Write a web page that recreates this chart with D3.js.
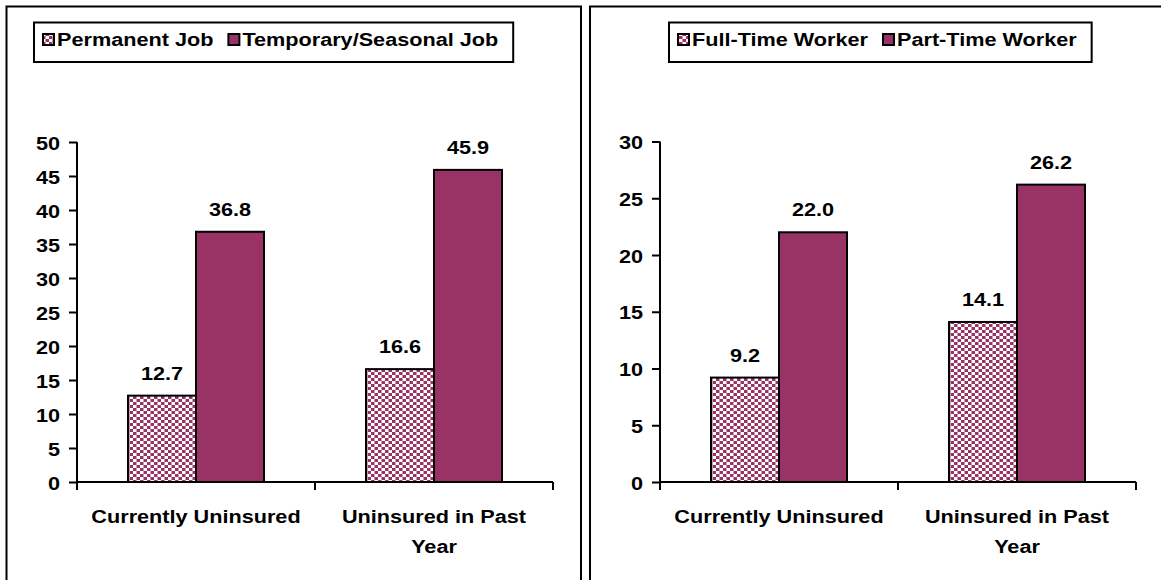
<!DOCTYPE html>
<html>
<head>
<meta charset="utf-8">
<script src="https://cdn.jsdelivr.net/npm/d3@7"></script>
<style>
  body { margin: 0; background: #fff; }
  text { font-family: Arial, "Liberation Sans", sans-serif; font-weight: bold; fill: #000; }
</style>
</head>
<body>
<div id="viz"></div>
<script>
// values
const categories = ["Currently Uninsured", "Uninsured in Past Year"];

const jobSeries = ["Permanent Job", "Temporary/Seasonal Job"];
const permanentJob = [12.7, 16.6];
const temporaryJob = [36.8, 45.9];
const jobTicks = [0, 5, 10, 15, 20, 25, 30, 35, 40, 45, 50];

const workerSeries = ["Full-Time Worker", "Part-Time Worker"];
const fullTimeWorker = [9.2, 14.1];
const partTimeWorker = [22.0, 26.2];
const workerTicks = [0, 5, 10, 15, 20, 25, 30];

const width = 1161, height = 580;
const plum = "#993366";
const fontSize = 19, stretch = 1.14;   // the source picture is stretched sideways

const svg = d3.select("#viz")
  .append("svg")
  .attr("width", width)
  .attr("height", height);

// checker fill for the first series
const pat = svg.append("defs").append("pattern")
  .attr("id", "check")
  .attr("patternUnits", "userSpaceOnUse")
  .attr("width", 7)
  .attr("height", 6);
pat.append("rect").attr("width", 7).attr("height", 6).attr("fill", "#fff");
pat.append("rect").attr("width", 3.5).attr("height", 3).attr("fill", plum);
pat.append("rect").attr("x", 3.5).attr("y", 3).attr("width", 3.5).attr("height", 3).attr("fill", plum);

const fills = ["url(#check)", plum];

function stretchedText(sel, x, y, anchor) {
  return sel.append("text")
    .attr("transform", `translate(${x},${y}) scale(${stretch},1)`)
    .attr("text-anchor", anchor || "start")
    .style("font-size", fontSize + "px");
}

function drawPanel(p) {
  const g = svg.append("g");

  // panel frame
  g.append("rect")
    .attr("x", p.frame[0]).attr("y", 6.5)
    .attr("width", p.frame[1] - p.frame[0]).attr("height", 600)
    .attr("fill", "none").attr("stroke", "#000").attr("stroke-width", 2);

  const x0 = d3.scaleBand().domain(categories).range(p.xRange);
  const x1 = d3.scaleBand().domain(p.series).range([0, x0.bandwidth()]).paddingOuter(0.75);
  const y = d3.scaleLinear().domain([0, d3.max(p.ticks)]).range(p.yRange);

  // bars
  const rows = categories.map((c, i) => p.series.map((s, j) => ({c, s, j, v: p.values[j][i]})));
  const grp = g.selectAll("g.cat")
    .data(rows).enter()
    .append("g").attr("class", "cat")
    .attr("transform", d => `translate(${x0(d[0].c)},0)`);

  grp.selectAll("rect")
    .data(d => d).enter()
    .append("rect")
    .attr("x", d => x1(d.s))
    .attr("y", d => y(d.v))
    .attr("width", x1.bandwidth())
    .attr("height", d => y(0) - y(d.v))
    .attr("fill", d => fills[d.j])
    .attr("stroke", "#000")
    .attr("stroke-width", 2);

  grp.each(function(d) {
    const gg = d3.select(this);
    d.forEach(b => {
      stretchedText(gg, x1(b.s) + x1.bandwidth() / 2, y(b.v) - 16, "middle")
        .text(d3.format(".1f")(b.v));
    });
  });

  // y axis
  const yAxis = g.append("g")
    .attr("transform", `translate(${p.xRange[0]},0)`)
    .call(d3.axisLeft(y).tickValues(p.ticks).tickSize(8).tickSizeOuter(0).tickFormat(d3.format("d")));
  yAxis.select(".domain").remove();
  yAxis.selectAll("line").attr("stroke", "#000").attr("stroke-width", 2);
  yAxis.selectAll("text")
    .attr("x", null).attr("dy", null)
    .attr("transform", `translate(-17,7) scale(${stretch},1)`)
    .attr("font-family", null).attr("font-size", null)
    .style("font-size", fontSize + "px");
  g.append("line")
    .attr("x1", p.xRange[0]).attr("x2", p.xRange[0])
    .attr("y1", y(d3.max(p.ticks))).attr("y2", y(0) + 8)
    .attr("stroke", "#000").attr("stroke-width", 2);

  // x axis, ticks on the category edges
  g.append("line")
    .attr("x1", p.xRange[0]).attr("x2", p.xRange[1])
    .attr("y1", y(0)).attr("y2", y(0))
    .attr("stroke", "#000").attr("stroke-width", 2);
  const edges = categories.map(c => x0(c)).concat([p.xRange[1]]);
  g.selectAll("line.edge")
    .data(edges).enter()
    .append("line").attr("class", "edge")
    .attr("x1", d => d).attr("x2", d => d)
    .attr("y1", y(0)).attr("y2", y(0) + 8)
    .attr("stroke", "#000").attr("stroke-width", 2);

  // category labels, wrapped to the band
  categories.forEach(c => {
    const t = stretchedText(g, x0(c) + x0.bandwidth() / 2, 523, "middle");
    const words = c.split(" ");
    let line = [], lineNo = 0;
    let tspan = t.append("tspan").attr("x", 0).attr("y", 0);
    words.forEach(w => {
      line.push(w);
      tspan.text(line.join(" "));
      if (tspan.node().getComputedTextLength() * stretch > x0.bandwidth() - 10 && line.length > 1) {
        line.pop();
        tspan.text(line.join(" "));
        line = [w];
        lineNo++;
        tspan = t.append("tspan").attr("x", 0).attr("y", lineNo * 30).text(w);
      }
    });
  });

  // legend
  const lg = g.append("g");
  const box = lg.append("rect")
    .attr("x", p.legendX).attr("y", 22.5)
    .attr("height", 39.5)
    .attr("fill", "#fff").attr("stroke", "#000").attr("stroke-width", 2);
  let cx = p.legendX + 9;
  p.series.forEach((s, j) => {
    lg.append("rect")
      .attr("x", cx).attr("y", 34)
      .attr("width", 11).attr("height", 11)
      .attr("fill", fills[j]).attr("stroke", "#000").attr("stroke-width", 2);
    const t = stretchedText(lg, cx + 14, 46).text(s);
    cx += 14 + t.node().getComputedTextLength() * stretch + 15;
  });
  box.attr("width", cx - p.legendX);
}

drawPanel({
  frame: [6.5, 581],
  legendX: 34,
  xRange: [77, 553],
  yRange: [482, 142],
  ticks: jobTicks,
  series: jobSeries,
  values: [permanentJob, temporaryJob]
});

drawPanel({
  frame: [590, 1175],
  legendX: 669,
  xRange: [660, 1136],
  yRange: [482, 141.5],
  ticks: workerTicks,
  series: workerSeries,
  values: [fullTimeWorker, partTimeWorker]
});
</script>
</body>
</html>
